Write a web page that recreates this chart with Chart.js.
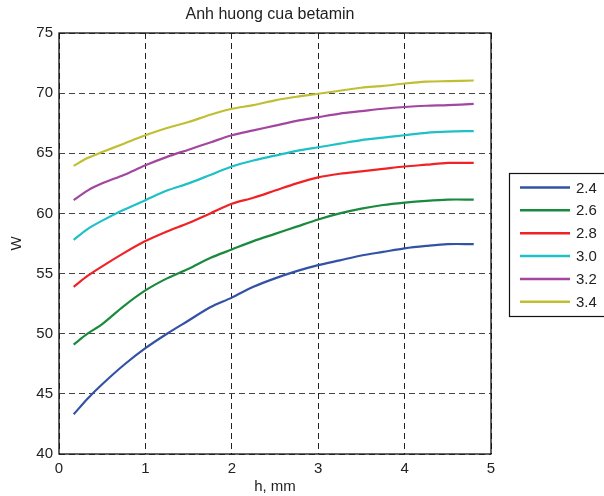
<!DOCTYPE html>
<html><head><meta charset="utf-8">
<script src="https://cdn.jsdelivr.net/npm/chart.js@4/dist/chart.umd.min.js"></script>
<style>html,body{margin:0;padding:0;background:#fff}#wrap{width:604px;height:496px}</style>
</head><body><div id="wrap"><canvas id="c" width="604" height="496"></canvas></div>
<script>
const chartTitle = "Anh huong cua betamin";
const xTitle = "h, mm";
const yTitle = "W";
const hValues = [0.17, 0.33, 0.5, 0.75, 1, 1.25, 1.5, 1.75, 2, 2.25, 2.5, 2.75, 3, 3.25, 3.5, 3.75, 4, 4.25, 4.5, 4.8];
const seriesLabels = ["2.4", "2.6", "2.8", "3.0", "3.2", "3.4"];
const w24 = [43.3, 44.6, 45.8, 47.4, 48.8, 50.0, 51.1, 52.2, 53.0, 53.9, 54.6, 55.2, 55.7, 56.1, 56.5, 56.8, 57.1, 57.3, 57.45, 57.45];
const w26 = [49.1, 50.0, 50.8, 52.3, 53.6, 54.6, 55.4, 56.3, 57.0, 57.7, 58.3, 58.9, 59.5, 60.0, 60.4, 60.7, 60.9, 61.05, 61.15, 61.15];
const w28 = [53.9, 54.8, 55.6, 56.7, 57.7, 58.5, 59.2, 60.0, 60.8, 61.3, 61.9, 62.5, 63.0, 63.3, 63.5, 63.7, 63.9, 64.05, 64.2, 64.2];
const w30 = [57.8, 58.7, 59.4, 60.3, 61.1, 61.9, 62.5, 63.2, 63.9, 64.4, 64.8, 65.2, 65.5, 65.8, 66.1, 66.3, 66.5, 66.7, 66.8, 66.85];
const w32 = [61.1, 61.9, 62.5, 63.2, 64.0, 64.7, 65.3, 65.9, 66.5, 66.9, 67.3, 67.7, 68.0, 68.3, 68.5, 68.7, 68.85, 68.95, 69.0, 69.1];
const w34 = [63.95, 64.6, 65.1, 65.8, 66.5, 67.1, 67.6, 68.2, 68.7, 69.0, 69.4, 69.7, 69.95, 70.2, 70.45, 70.6, 70.8, 70.95, 71.0, 71.05];
const xTicks = [0, 1, 2, 3, 4, 5];
const yTicks = [40, 45, 50, 55, 60, 65, 70, 75];

const allSeries = [w24, w26, w28, w30, w32, w34];
const colors = ["#3352a6", "#1a8a3e", "#f02226", "#1fc0c6", "#a3479e", "#c0bf33"];
const FONT = "Liberation Sans, Arial, sans-serif";

const datasets = allSeries.map((s, i) => ({
  label: seriesLabels[i],
  data: hValues.map((h, j) => ({x: h, y: s[j]})),
  borderColor: colors[i],
  backgroundColor: colors[i],
  borderWidth: 2.2,
  pointRadius: 0,
  tension: 0.3,
  fill: false
}));

const decor = {
  id: 'decor',
  afterDraw(chart) {
    const ctx = chart.ctx, a = chart.chartArea;
    ctx.save();
    ctx.strokeStyle = '#111';
    ctx.lineWidth = 1.3;
    ctx.setLineDash([]);
    ctx.strokeRect(a.left, a.top, a.right - a.left, a.bottom - a.top);
    ctx.fillStyle = '#222';
    ctx.font = '16px ' + FONT;
    ctx.textAlign = 'center';
    ctx.textBaseline = 'middle';
    ctx.fillText(chartTitle, (a.left + a.right) / 2 - 5, 15);
    ctx.font = '15px ' + FONT;
    ctx.fillText(xTitle, (a.left + a.right) / 2, 487);
    ctx.save();
    ctx.translate(17, (a.top + a.bottom) / 2);
    ctx.rotate(-Math.PI / 2);
    ctx.fillText(yTitle, 0, 0);
    ctx.restore();
    // legend
    const lx = 509.5, ly = 173.5, lw = 100, lh = 143;
    ctx.fillStyle = '#fff';
    ctx.fillRect(lx, ly, lw, lh);
    ctx.strokeStyle = '#111';
    ctx.lineWidth = 1.2;
    ctx.strokeRect(lx, ly, lw, lh);
    ctx.font = '15px ' + FONT;
    ctx.textAlign = 'left';
    chart.data.datasets.forEach((d, i) => {
      const y = 187.5 + i * 22.85;
      ctx.strokeStyle = d.borderColor;
      ctx.lineWidth = 2.5;
      ctx.beginPath();
      ctx.moveTo(520, y);
      ctx.lineTo(570, y);
      ctx.stroke();
      ctx.fillStyle = '#222';
      ctx.fillText(d.label, 576, y + 1);
    });
    ctx.restore();
  }
};

new Chart(document.getElementById('c'), {
  type: 'line',
  data: {datasets},
  options: {
    responsive: false,
    animation: false,
    layout: {padding: {top: 33, right: 113, bottom: 0, left: 0}},
    plugins: {legend: {display: false}, title: {display: false}, tooltip: {enabled: false}},
    scales: {
      x: {
        type: 'linear', min: 0, max: 5,
        afterBuildTicks: s => { s.ticks = xTicks.map(v => ({value: v})); },
        afterFit: s => { s.height = 42; },
        grid: {color: '#222', lineWidth: 1, drawTicks: false, tickLength: 0},
        border: {display: false, dash: [6, 4]},
        ticks: {font: {size: 15, family: FONT}, color: '#222', padding: 6, maxRotation: 0}
      },
      y: {
        min: 40, max: 75,
        afterBuildTicks: s => { s.ticks = yTicks.map(v => ({value: v})); },
        afterFit: s => { s.width = 59; },
        grid: {color: '#444', lineWidth: 1, drawTicks: false, tickLength: 0},
        border: {display: false, dash: [6, 4]},
        ticks: {font: {size: 15, family: FONT}, color: '#222', padding: 6}
      }
    }
  },
  plugins: [decor]
});
</script></body></html>
